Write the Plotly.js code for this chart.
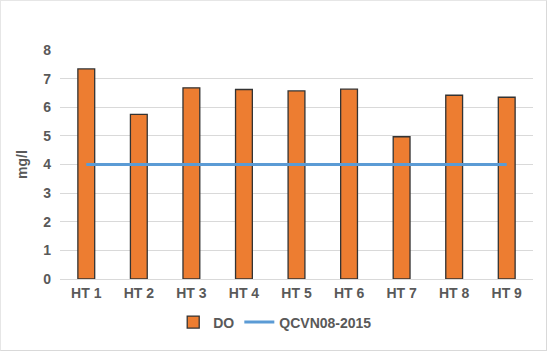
<!DOCTYPE html>
<html>
<head>
<meta charset="utf-8">
<script src="https://cdn.plot.ly/plotly-3.0.1.min.js"></script>
<style>
html,body{margin:0;padding:0;background:#fff;}
#wrap{position:absolute;left:0;top:0;width:545px;height:349px;border:1px solid #d9d9d9;border-top-color:#e6e6e6;border-left-color:#e6e6e6;}
#chart{position:absolute;left:-1px;top:-1px;width:547px;height:351px;}
</style>
</head>
<body>
<div id="wrap"><div id="chart"></div></div>
<script>
const categories = ["HT 1","HT 2","HT 3","HT 4","HT 5","HT 6","HT 7","HT 8","HT 9"];
const doValues = [7.34, 5.75, 6.68, 6.62, 6.57, 6.63, 4.97, 6.42, 6.35];
const qcvnValues = [4, 4, 4, 4, 4, 4, 4, 4, 4];
const yTicks = [0,1,2,3,4,5,6,7,8];

const font = {family: "Liberation Sans, Arial, sans-serif", color: "#595959", size: 14, weight: 700};

const traces = [
  {type: "bar", name: "DO", x: categories, y: doValues, width: 0.32,
   marker: {color: "#ed7d31", line: {color: "#333333", width: 1.3}}},
  {type: "scatter", mode: "lines", name: "QCVN08-2015", x: categories, y: qcvnValues,
   line: {color: "#5b9bd5", width: 3}}
];

const layout = {
  width: 547, height: 351,
  margin: {l: 60, r: 14, t: 50, b: 72},
  paper_bgcolor: "rgba(0,0,0,0)", plot_bgcolor: "rgba(0,0,0,0)",
  font: font,
  showlegend: true,
  legend: {orientation: "h", x: 0.455, xanchor: "center", y: -0.19, yanchor: "middle",
           font: font, itemwidth: 30, tracegroupgap: 0},
  xaxis: {type: "category", showgrid: false, zeroline: false, showline: false,
          ticks: "", tickfont: font, ticklabelstandoff: 4},
  yaxis: {range: [0, 8], tickvals: yTicks, showgrid: true, gridcolor: "#d9d9d9", gridwidth: 1,
          zeroline: true, zerolinecolor: "#d9d9d9", zerolinewidth: 1, showline: false, ticks: "",
          tickfont: font, ticklabelstandoff: 8,
          title: {text: "mg/l", font: font, standoff: 12}}
};

Plotly.newPlot("chart", traces, layout, {displayModeBar: false, staticPlot: true});
</script>
</body>
</html>
